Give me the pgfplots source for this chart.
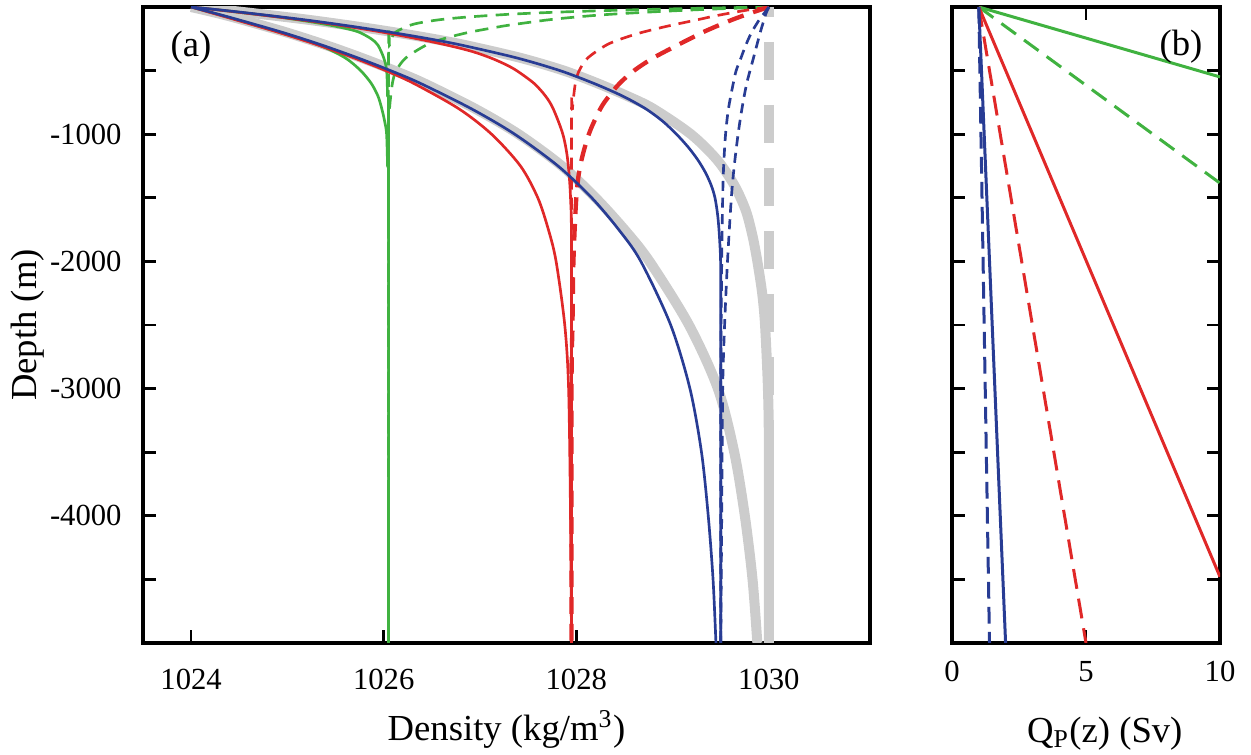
\documentclass[border=0pt]{standalone}
\usepackage{fontspec}
\setmainfont{Liberation Serif}
\usepackage{pgfplots}
\pgfplotsset{compat=1.18}
\definecolor{cgreen}{RGB}{64,178,64}
\definecolor{cred}{RGB}{224,40,40}
\definecolor{cblue}{RGB}{40,60,148}
\definecolor{cgrey}{RGB}{204,204,204}

\pgfplotsset{
  panel/.style={
    scale only axis, height=190.8pt,
    ymin=-5000, ymax=0,
    axis line style={line width=1pt},
    every tick/.style={line width=0.8pt, black},
    major tick length=4pt, minor tick length=4pt,
    tick align=inside,
    /pgf/number format/assume math mode=true,
    tick label style={font=\fontsize{9.2}{10}\selectfont},
    label style={font=\fontsize{11}{13}\selectfont, inner sep=0pt},
    every axis plot/.append style={line width=0.8pt},
  },
  greythick/.style={cgrey, line width=3pt, smooth},
}

\begin{document}
\begin{tikzpicture}
\useasboundingbox (-42.9pt,-33.6pt) rectangle (332.4pt,192.9pt);

% (a) density profiles
\begin{axis}[panel, width=218.1pt,
  xmin=1023.5, xmax=1031.05,
  xtick={1024,1026,1028,1030}, xticklabels={1024,1026,1028,1030},
  ytick={-4000,-3000,-2000,-1000}, yticklabels={-4000,-3000,-2000,-1000},
  minor ytick={-4500,-3500,-2500,-1500,-500},
  xtick pos=left, ytick pos=left,
  xticklabel style={yshift=-4.4pt},
  yticklabel style={xshift=-2.9pt},
  xlabel={Density (kg/m\textsuperscript{3})},
  ylabel={Depth (m)},
  xlabel style={at={([yshift=-20pt]rel axis cs:0.5,0)}, anchor=north},
  ylabel style={at={([xshift=-34.5pt]rel axis cs:0,0.5)}, anchor=center},
]
% grey reference curves
\addplot[greythick] coordinates {
 (1024.00,0) (1024.36,-25) (1024.66,-50) (1025.21,-100) (1025.69,-150)
 (1026.12,-200) (1026.51,-250) (1026.85,-300) (1027.42,-400) (1027.87,-500)
 (1028.22,-600) (1028.53,-700) (1028.80,-800) (1029.19,-1000) (1029.46,-1200)
 (1029.64,-1400) (1029.76,-1600) (1029.83,-1800) (1029.88,-2000) (1029.93,-2250)
 (1029.96,-2500) (1029.99,-3000) (1030.00,-3500) (1030.00,-5000)};
\addplot[greythick] coordinates {
 (1024.00,0) (1024.28,-50) (1024.53,-100) (1024.99,-200) (1025.40,-300)
 (1025.77,-400) (1026.11,-500) (1026.42,-600) (1026.95,-800) (1027.40,-1000)
 (1027.85,-1250) (1028.20,-1500) (1028.50,-1750) (1028.76,-2000) (1029.17,-2500)
 (1029.47,-3000) (1029.64,-3500) (1029.75,-4000) (1029.83,-4500) (1029.88,-5000)};
\addplot[cgrey, line width=3pt, dash pattern=on 11.4pt off 7.5pt, dash phase=8.4pt]
 coordinates {(1030,0) (1030,-5000)};

% green
\addplot[cgreen, smooth] coordinates {
 (1024.00,0) (1024.31,-25) (1024.59,-50) (1024.87,-75) (1025.10,-100)
 (1025.31,-125) (1025.49,-150) (1025.64,-175) (1025.75,-200) (1025.87,-250)
 (1025.94,-300) (1026.00,-400) (1026.03,-500) (1026.04,-700) (1026.05,-1000)
 (1026.05,-5000)};
\addplot[cgreen, smooth] coordinates {
 (1024.00,0) (1024.24,-50) (1024.47,-100) (1024.92,-200) (1025.33,-300)
 (1025.60,-400) (1025.76,-500) (1025.87,-600) (1025.94,-700) (1025.98,-800)
 (1026.01,-900) (1026.03,-1000) (1026.04,-1250) (1026.05,-1500) (1026.05,-5000)};
\addplot[cgreen, smooth, dash pattern=on 4pt off 2.5pt] coordinates {
 (1030.00,0) (1029.28,-10) (1028.70,-20) (1028.22,-30) (1027.82,-40)
 (1027.50,-50) (1027.24,-60) (1026.85,-80) (1026.58,-100) (1026.37,-125)
 (1026.25,-150) (1026.12,-200) (1026.08,-250) (1026.06,-300) (1026.05,-500)
 (1026.05,-5000)};
\addplot[cgreen, smooth, dash pattern=on 4pt off 2.5pt] coordinates {
 (1030.00,0) (1029.30,-20) (1028.75,-40) (1028.30,-60) (1027.98,-80)
 (1027.72,-100) (1027.47,-125) (1027.24,-150) (1026.88,-200) (1026.62,-250)
 (1026.44,-300) (1026.23,-400) (1026.13,-500) (1026.09,-600) (1026.06,-800)
 (1026.05,-1000) (1026.05,-5000)};

% red
\addplot[cred, smooth] coordinates {
 (1024.00,0) (1024.30,-25) (1024.59,-50) (1025.13,-100) (1025.60,-150)
 (1026.00,-200) (1026.35,-250) (1026.66,-300) (1026.92,-350) (1027.11,-400)
 (1027.26,-450) (1027.38,-500) (1027.56,-600) (1027.68,-700) (1027.76,-800)
 (1027.86,-1000) (1027.91,-1200) (1027.94,-1500) (1027.95,-2000) (1027.95,-5000)};
\addplot[cred, smooth] coordinates {
 (1024.00,0) (1024.23,-50) (1024.46,-100) (1024.91,-200) (1025.32,-300)
 (1025.69,-400) (1026.02,-500) (1026.31,-600) (1026.78,-800) (1027.12,-1000)
 (1027.42,-1250) (1027.60,-1500) (1027.71,-1750) (1027.79,-2000) (1027.88,-2500)
 (1027.92,-3000) (1027.94,-4000) (1027.95,-5000)};
\addplot[cred, smooth, dash pattern=on 3.6pt off 2.4pt] coordinates {
 (1030.00,0) (1029.77,-25) (1029.58,-50) (1029.41,-75) (1029.26,-100)
 (1028.95,-150) (1028.68,-200) (1028.47,-250) (1028.31,-300) (1028.12,-400)
 (1028.03,-500) (1027.99,-600) (1027.96,-800) (1027.95,-1000) (1027.95,-5000)};
\addplot[cred, smooth, line width=1.3pt, dash pattern=on 5pt off 3pt] coordinates {
 (1030.00,0) (1029.80,-50) (1029.62,-100) (1029.46,-150) (1029.31,-200)
 (1029.18,-250) (1029.05,-300) (1028.80,-400) (1028.60,-500) (1028.45,-600)
 (1028.34,-700) (1028.25,-800) (1028.13,-1000) (1028.04,-1250) (1028.00,-1500)
 (1027.97,-2000) (1027.96,-2500) (1027.95,-3000) (1027.95,-5000)};

% blue
\addplot[cblue, smooth] coordinates {
 (1024.00,0) (1024.32,-25) (1024.62,-50) (1025.17,-100) (1025.65,-150)
 (1026.08,-200) (1026.47,-250) (1026.81,-300) (1027.38,-400) (1027.83,-500)
 (1028.18,-600) (1028.48,-700) (1028.72,-800) (1028.90,-900) (1029.04,-1000)
 (1029.16,-1100) (1029.26,-1200) (1029.34,-1300) (1029.40,-1400) (1029.44,-1500)
 (1029.47,-1650) (1029.49,-1850) (1029.50,-2100) (1029.50,-3000) (1029.50,-5000)};
\addplot[cblue, smooth] coordinates {
 (1024.00,0) (1024.25,-50) (1024.49,-100) (1024.95,-200) (1025.36,-300)
 (1025.73,-400) (1026.07,-500) (1026.38,-600) (1026.91,-800) (1027.36,-1000)
 (1027.81,-1250) (1028.16,-1500) (1028.44,-1750) (1028.67,-2000) (1028.98,-2500)
 (1029.18,-3000) (1029.30,-3500) (1029.37,-4000) (1029.42,-4500) (1029.45,-5000)};
\addplot[cblue, smooth, dash pattern=on 3pt off 2pt] coordinates {
 (1030.00,0) (1029.95,-50) (1029.90,-100) (1029.82,-200) (1029.76,-300)
 (1029.71,-400) (1029.66,-500) (1029.63,-600) (1029.58,-800) (1029.55,-1000)
 (1029.53,-1250) (1029.52,-1500) (1029.51,-2000) (1029.50,-3000) (1029.50,-5000)};
\addplot[cblue, smooth, dash pattern=on 3pt off 2pt] coordinates {
 (1030.00,0) (1029.97,-50) (1029.95,-100) (1029.91,-200) (1029.84,-400)
 (1029.77,-600) (1029.72,-800) (1029.68,-1000) (1029.64,-1250) (1029.61,-1500)
 (1029.57,-2000) (1029.54,-2500) (1029.52,-3000) (1029.51,-4000) (1029.50,-5000)};

\node[anchor=west, inner sep=0pt, font=\fontsize{11}{13}\selectfont]
  at (rel axis cs:0.037,0.936) {(a)};
\end{axis}

% (b) transport
\begin{axis}[panel, at={(242.7pt,0)}, width=80.4pt,
  xmin=0, xmax=10, xtick={0,5,10}, xticklabels={0,5,10},
  ytick={-4500,-4000,-3500,-3000,-2500,-2000,-1500,-1000,-500}, yticklabels={},
  xticklabel style={yshift=-2pt},
  xlabel={Q\textsubscript{P}(z) (Sv)},
  xlabel style={at={([yshift=-22pt]rel axis cs:0.57,0)}, anchor=north},
  every axis plot/.append style={line width=0.9pt},
]
\addplot[cgreen] coordinates {(1,0) (10,-550)};
\addplot[cgreen, dash pattern=on 5.4pt off 3pt] coordinates {(1,0) (10,-1385)};
\addplot[cred] coordinates {(1,0) (10,-4480)};
\addplot[cred, dash pattern=on 6pt off 3pt] coordinates {(1,0) (5,-5000)};
\addplot[cblue] coordinates {(1,0) (2,-5000)};
\addplot[cblue, dash pattern=on 5pt off 2.5pt] coordinates {(1,0) (1.4,-5000)};
\node[anchor=east, inner sep=0pt, font=\fontsize{11}{13}\selectfont]
  at (rel axis cs:0.937,0.938) {(b)};
\end{axis}
\end{tikzpicture}
\end{document}
